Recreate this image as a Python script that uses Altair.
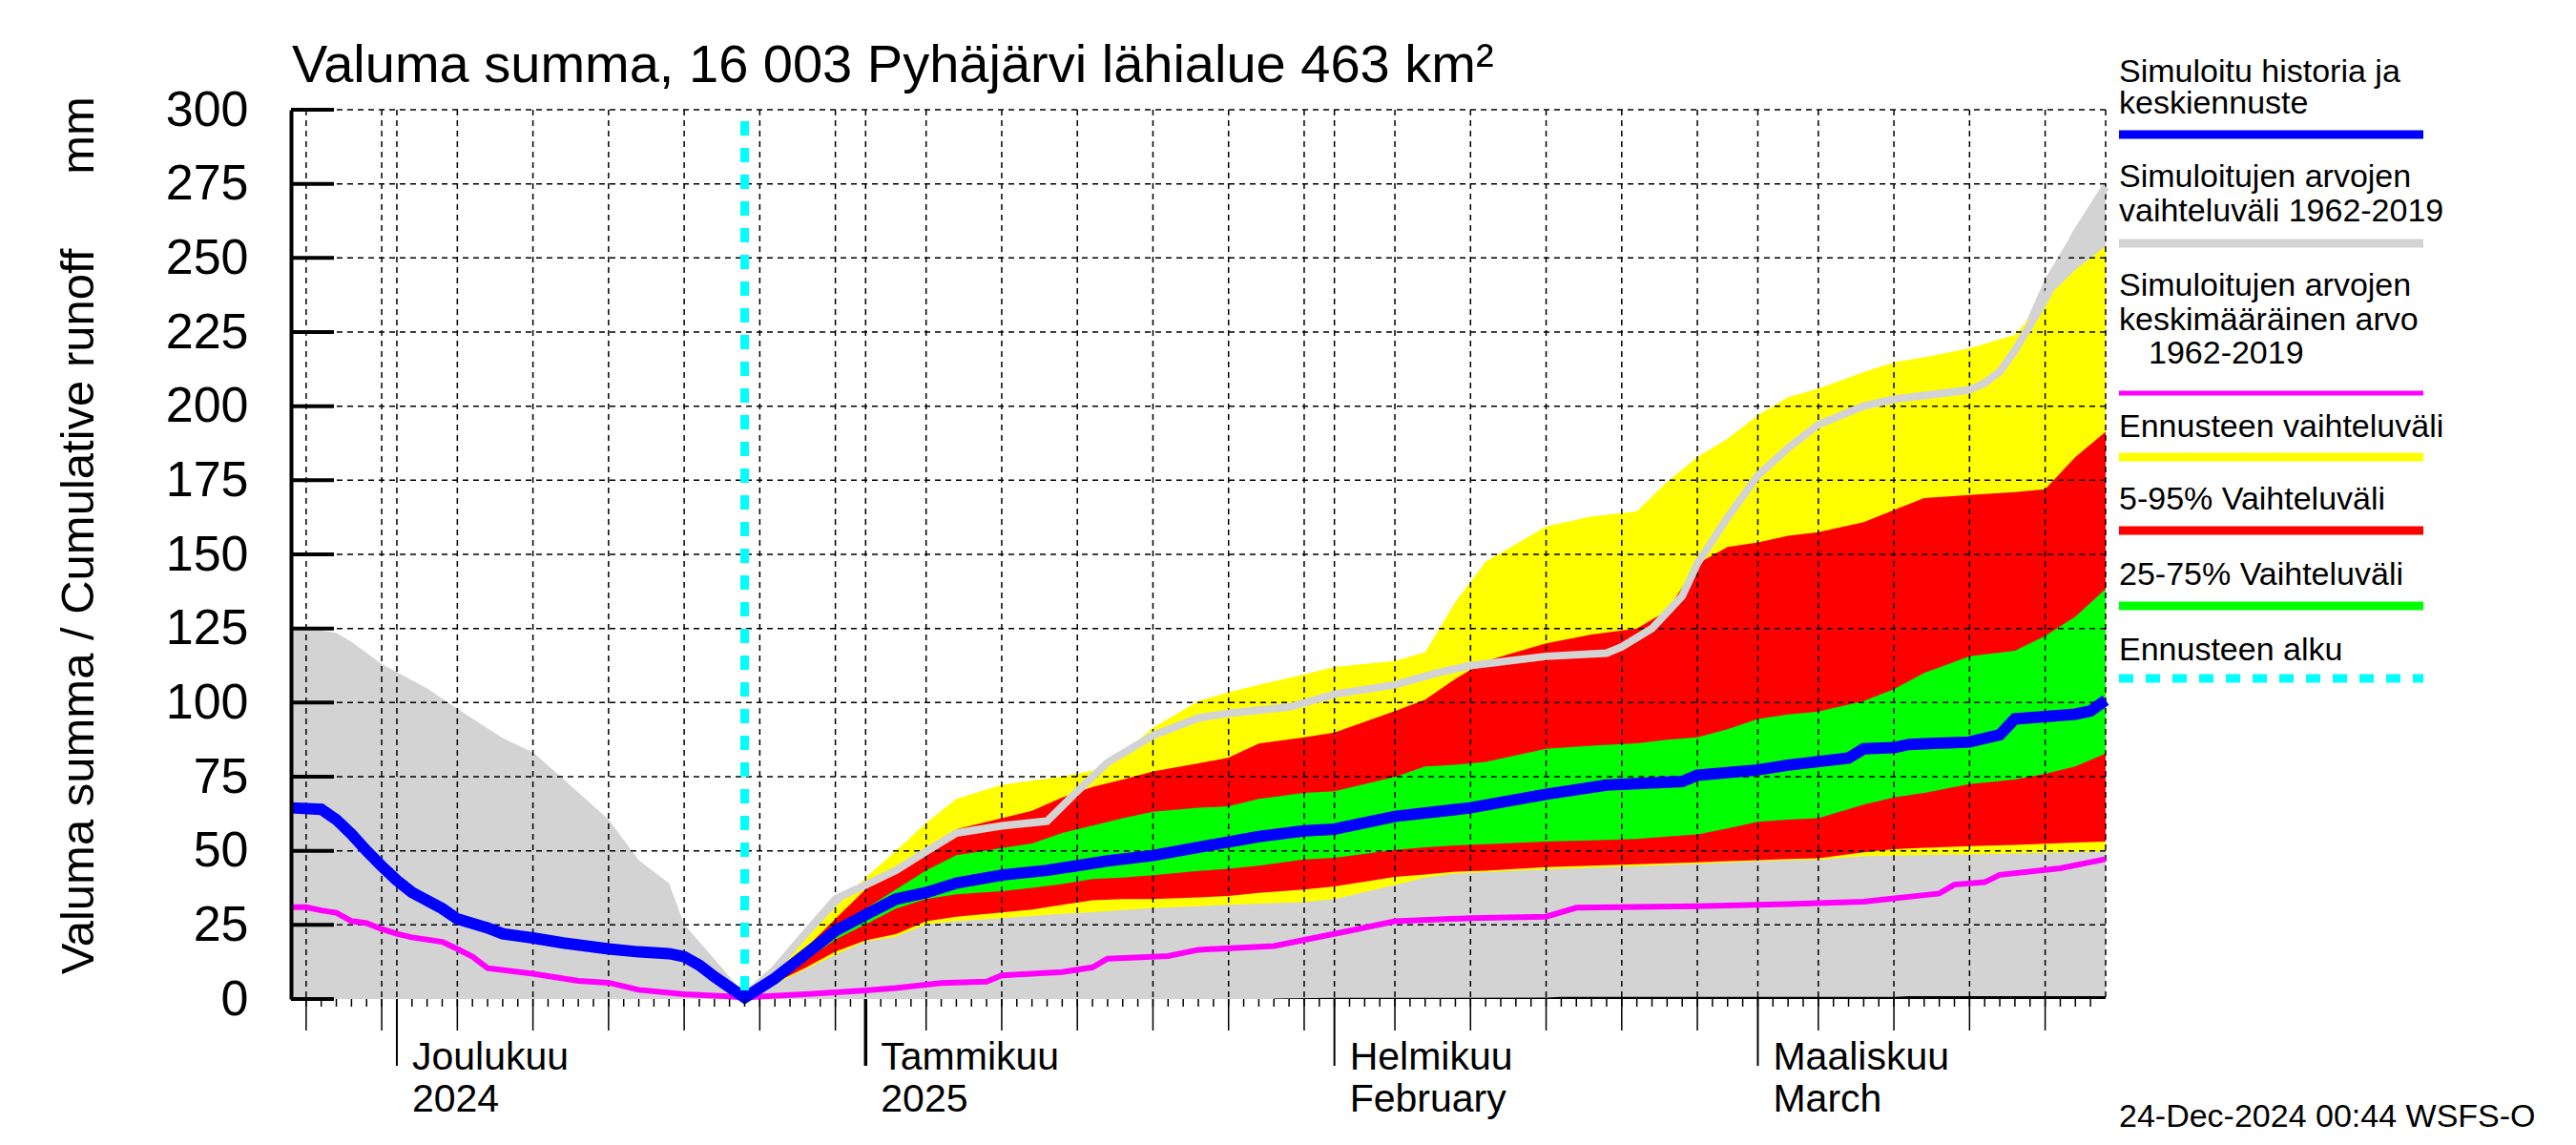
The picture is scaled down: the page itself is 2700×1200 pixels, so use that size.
import altair as alt
import pandas as pd

FONT = "Liberation Sans"
W, H = 1902, 932

# ---------------- data ----------------
title_text = "Valuma summa, 16 003 Pyhäjärvi lähialue 463 km²"
ytitle_text = "Valuma summa / Cumulative runoff"
yunit_text = "mm"
stamp_text = "24-Dec-2024 00:44 WSFS-O"
y_ticks = [0, 25, 50, 75, 100, 125, 150, 175, 200, 225, 250, 275, 300]

month_starts = ["2024-12-01", "2025-01-01", "2025-02-01", "2025-03-01"]
month_line1 = ["Joulukuu", "Tammikuu", "Helmikuu", "Maaliskuu"]
month_line2 = ["2024", "2025", "February", "March"]

forecast_start = ["2024-12-24"]

legend_labels = [
    "Simuloitu historia ja", "keskiennuste",
    "Simuloitujen arvojen", "vaihteluväli 1962-2019",
    "Simuloitujen arvojen", "keskimääräinen arvo", "1962-2019",
    "Ennusteen vaihteluväli",
    "5-95% Vaihteluväli",
    "25-75% Vaihteluväli",
    "Ennusteen alku",
]

# simulated history + median forecast (blue)
blue_dates = ["2024-11-24", "2024-11-26", "2024-11-27", "2024-11-28", "2024-11-29", "2024-11-30",
              "2024-12-01", "2024-12-02", "2024-12-04", "2024-12-05", "2024-12-07", "2024-12-08",
              "2024-12-10", "2024-12-12", "2024-12-15", "2024-12-17", "2024-12-19", "2024-12-20",
              "2024-12-21", "2024-12-22", "2024-12-24", "2024-12-26", "2024-12-28", "2024-12-30",
              "2025-01-01", "2025-01-03", "2025-01-05", "2025-01-07", "2025-01-10", "2025-01-13",
              "2025-01-15", "2025-01-17", "2025-01-20", "2025-01-25", "2025-01-27", "2025-01-30",
              "2025-02-01", "2025-02-05", "2025-02-10", "2025-02-15", "2025-02-17", "2025-02-19",
              "2025-02-24", "2025-02-25", "2025-03-01", "2025-03-03", "2025-03-07", "2025-03-08",
              "2025-03-10", "2025-03-11", "2025-03-15", "2025-03-17", "2025-03-18", "2025-03-20",
              "2025-03-22", "2025-03-23", "2025-03-24"]
blue_vals = [64.5, 64, 60.5, 55.6, 50, 44.8,
             40, 36, 30.5, 27, 24, 22, 20.6, 18.9, 16.9, 15.9, 15.3, 14.3, 11.4, 7.5, 0.5, 7, 15, 23,
             28.4, 33.7, 35.9, 39.1, 41.8, 43.4, 45, 46.6, 48.4, 53, 54.8, 56.7,
             57.3, 61.6, 64.5, 69.1, 70.6, 72.2, 73.4, 75.5,
             77.3, 78.9, 81.3, 84.4, 84.8, 85.9, 86.7, 89.1, 94.5, 95.3, 96.1, 97.2, 100.8]

# range of simulated values 1962-2019 (grey area, upper edge)
gray_dates = ["2024-11-24", "2024-11-27", "2024-11-28", "2024-11-30", "2024-12-03", "2024-12-05",
              "2024-12-08", "2024-12-10", "2024-12-12", "2024-12-15", "2024-12-17", "2024-12-19",
              "2024-12-20", "2024-12-22",
              "2024-12-24", "2024-12-26", "2024-12-28", "2024-12-30", "2025-01-01", "2025-01-03",
              "2025-01-05", "2025-01-07", "2025-01-10", "2025-01-12", "2025-01-14", "2025-01-16",
              "2025-01-18", "2025-01-20", "2025-01-23", "2025-01-25", "2025-01-27", "2025-01-30",
              "2025-02-01", "2025-02-05", "2025-02-07", "2025-02-09", "2025-02-11", "2025-02-15",
              "2025-02-18", "2025-02-21", "2025-02-23", "2025-02-25", "2025-02-27", "2025-03-01",
              "2025-03-03", "2025-03-05", "2025-03-08", "2025-03-10", "2025-03-12", "2025-03-15",
              "2025-03-18", "2025-03-20", "2025-03-22", "2025-03-24"]
gray_hi = [125.8, 123.5, 120.5, 113, 104.8, 97.9, 88, 83.2, 74.3, 60.5, 46.8, 39, 25.2, 13.4,
           1.5, 10, 22, 33, 39, 45, 52, 60, 65, 68, 70, 72, 76, 85, 95, 98, 100, 104,
           106, 108, 110, 120, 135, 150, 155, 158, 165, 172, 180,
           188, 195, 198, 204, 207, 209, 212, 220, 243, 260, 276]

# forecast bands
fc_dates = ["2024-12-24", "2024-12-26", "2024-12-28", "2024-12-30",
            "2025-01-01", "2025-01-03", "2025-01-05", "2025-01-07", "2025-01-10", "2025-01-12",
            "2025-01-14", "2025-01-16", "2025-01-18", "2025-01-20", "2025-01-23", "2025-01-25",
            "2025-01-27", "2025-01-30",
            "2025-02-01", "2025-02-05", "2025-02-07", "2025-02-09", "2025-02-11", "2025-02-15",
            "2025-02-18", "2025-02-21", "2025-02-23", "2025-02-25", "2025-02-27",
            "2025-03-01", "2025-03-03", "2025-03-05", "2025-03-08", "2025-03-10", "2025-03-12",
            "2025-03-15", "2025-03-18", "2025-03-20", "2025-03-22", "2025-03-24"]
fc_max = [1, 9, 20, 31,
          41, 50, 59.4, 67.5, 72.3, 73.7, 75, 77, 83, 91.5, 100.5, 103.5, 106, 109.5,
          112, 114, 117, 134, 147.5, 159.4, 162.8, 164.5, 174.5, 182.8, 189,
          196.9, 203, 205.9, 211.5, 214.8, 216.5, 219.5, 224, 236, 246, 254]
fc_p95 = [1, 8, 17, 27,
          37, 44.4, 50.3, 57.3, 61, 63.5, 68, 71.5, 74, 76.8, 79.5, 81.4, 86.2, 88.3,
          89.9, 97.1, 101, 108, 114, 120, 123, 125, 131, 146.9, 152.5,
          154, 156.3, 157.5, 160.9, 165, 169, 170, 171, 172, 182.8, 191.4]
fc_p75 = [1, 7.5, 15.5, 24,
          30.5, 36.9, 43.4, 48.5, 50.9, 52.5, 56, 58.5, 61, 63.2, 64.5, 65, 67.5, 69.5,
          70.1, 74.9, 78.5, 79, 80, 84.4, 85.5, 86.3, 87.5, 88.3, 91,
          94.5, 96, 97, 100.5, 104.5, 110, 115.6, 117.5, 122.5, 129, 138.3]
fc_p25 = [1, 6.5, 13, 20,
          25.2, 30.5, 33.7, 35.3, 36.4, 37.5, 38.8, 40.5, 41, 41.8, 43.2, 43.9, 45, 47.1,
          47.6, 50.3, 51.2, 51.8, 52.2, 53.1, 53.5, 54, 54.8, 55.5, 57.5,
          59.8, 60.5, 61, 65.6, 68, 69.5, 72.5, 74, 76, 78.5, 82.8]
fc_p5 = [1, 5.5, 10.5, 16,
         19.8, 21.9, 26.2, 27.8, 29.2, 30.2, 31.8, 33.3, 33.7, 33.7, 34.3, 34.8, 35.8, 36.9,
         38, 41.2, 42, 43, 43.3, 44.5, 45, 45.5, 45.8, 46.1, 46.5,
         46.8, 47.2, 47.5, 49.5, 50.5, 51, 51.6, 52, 52.4, 52.8, 53.1]
fc_min = [1, 5, 10, 15,
          19.5, 21, 25.2, 26.3, 27.3, 28, 28.7, 29.3, 30, 30.7, 31.3, 31.8, 32.2, 32.7,
          33.7, 38.5, 41, 42.3, 42.8, 43.8, 44.3, 44.8, 45.2, 45.6, 46,
          46.5, 46.8, 47, 48.2, 48.4, 48.6, 48.8, 49.1, 49.3, 49.5, 49.7]

# light grey single simulation line
lg_dates = ["2024-12-24", "2024-12-26", "2024-12-28", "2024-12-30",
            "2025-01-01", "2025-01-03", "2025-01-05", "2025-01-07", "2025-01-10", "2025-01-13",
            "2025-01-15", "2025-01-17", "2025-01-20", "2025-01-23", "2025-01-25", "2025-01-29",
            "2025-02-01", "2025-02-05", "2025-02-08", "2025-02-10", "2025-02-15", "2025-02-19",
            "2025-02-20", "2025-02-22", "2025-02-24", "2025-02-25", "2025-02-27",
            "2025-03-01", "2025-03-03", "2025-03-05", "2025-03-08", "2025-03-10", "2025-03-15",
            "2025-03-16", "2025-03-17", "2025-03-18", "2025-03-20", "2025-03-22", "2025-03-24"]
lg_vals = [1, 10, 22, 33.7,
           38.5, 43.4, 49.8, 56, 58.4, 60, 70.1, 79.8, 88.9, 94.8, 96.4, 98.5,
           102.8, 106, 110.3, 112.5, 115.6, 116.7, 118.8, 125, 135.9, 146.9, 162.5,
           176.6, 185.9, 193.8, 200, 202.3, 205.5, 207.8, 211.7, 218.8, 236, 258, 274]

# mean of simulated values 1962-2019 (magenta)
mean_dates = ["2024-11-24", "2024-11-25", "2024-11-26", "2024-11-27", "2024-11-28", "2024-11-29",
              "2024-11-30", "2024-12-01", "2024-12-02", "2024-12-04", "2024-12-05", "2024-12-06",
              "2024-12-07", "2024-12-10", "2024-12-13", "2024-12-15", "2024-12-17", "2024-12-20",
              "2024-12-24", "2024-12-28", "2025-01-01", "2025-01-03", "2025-01-06", "2025-01-09",
              "2025-01-10", "2025-01-14", "2025-01-16", "2025-01-17", "2025-01-21", "2025-01-23",
              "2025-01-28", "2025-02-02", "2025-02-05", "2025-02-10", "2025-02-15", "2025-02-17",
              "2025-02-25", "2025-03-03", "2025-03-08", "2025-03-13", "2025-03-14", "2025-03-16",
              "2025-03-17", "2025-03-21", "2025-03-24"]
mean_vals = [31, 31, 29.9, 29.1, 26.3, 25.6, 23.6,
             22, 20.8, 19.3, 16.9, 14.3, 10.4, 8.5, 6.1, 5.5, 3.1, 1.6, 0.6, 1.6,
             2.9, 3.7, 5.4, 5.9, 8, 9.1, 10.7, 13.6, 14.5, 16.6, 17.9,
             23, 26.2, 27.3, 27.8, 30.8, 31.3,
             32, 32.8, 35.6, 38.6, 39.4, 41.9, 44.1, 47.2]

# thin black minimum strip at the bottom
min_dates = ["2025-01-28", "2025-02-01", "2025-02-15", "2025-02-16", "2025-03-10", "2025-03-11", "2025-03-24"]
min_vals = [0.15, 0.4, 0.45, 0.7, 0.75, 1.0, 1.0]

# ---------------- scales ----------------
xs = alt.Scale(type="utc", domain=[alt.DateTime(year=2024, month=11, date=24, utc=True),
                                   alt.DateTime(year=2025, month=3, date=24, utc=True)])
ys = alt.Scale(domain=[0, 300], nice=False, zero=False)

yaxis = alt.Axis(values=y_ticks, ticks=False, grid=False, domain=True, domainColor="black",
                 domainWidth=4, labelFont=FONT, labelFontSize=52, labelColor="black",
                 labelPadding=45, title=None, zindex=1)


def X(f="d"):
    return alt.X(f"{f}:T", scale=xs, axis=None)


def Y(f):
    return alt.Y(f"{f}:Q", scale=ys, axis=yaxis)


gray_df = pd.DataFrame({"d": gray_dates, "hi": gray_hi})
fc_df = pd.DataFrame({"d": fc_dates, "mn": fc_min, "p5": fc_p5, "p25": fc_p25,
                      "p75": fc_p75, "p95": fc_p95, "mx": fc_max})
blue_df = pd.DataFrame({"d": blue_dates, "v": blue_vals})
lg_df = pd.DataFrame({"d": lg_dates, "v": lg_vals})
mean_df = pd.DataFrame({"d": mean_dates, "v": mean_vals})
min_df = pd.DataFrame({"d": min_dates, "v": min_vals})

layers = []
layers.append(alt.Chart(gray_df).mark_area(color="#d3d3d3").encode(
    x=X(), y=Y("hi"), y2=alt.datum(0)))
layers.append(alt.Chart(fc_df).mark_area(color="#ffff00").encode(x=X(), y=Y("mx"), y2="mn:Q"))
layers.append(alt.Chart(fc_df).mark_area(color="#ff0000").encode(x=X(), y=Y("p95"), y2="p5:Q"))
layers.append(alt.Chart(fc_df).mark_area(color="#00ff00").encode(x=X(), y=Y("p75"), y2="p25:Q"))
layers.append(alt.Chart(min_df).mark_area(color="black").encode(x=X(), y=Y("v"), y2=alt.datum(0)))

# grid
all_days = pd.date_range("2024-11-25", "2025-03-23", freq="D")
grid_days = [d.strftime("%Y-%m-%d") for d in all_days if d.day in (1, 5, 10, 15, 20, 25, 30)]
mid_days = [d.strftime("%Y-%m-%d") for d in all_days if d.day in (5, 10, 15, 20, 25, 30)]
day_days = [d.strftime("%Y-%m-%d") for d in all_days]
dash = [6, 5]
layers.append(alt.Chart(pd.DataFrame({"v": y_ticks[1:]})).mark_rule(
    color="black", strokeWidth=1.5, strokeDash=dash).encode(y=Y("v")))
layers.append(alt.Chart(pd.DataFrame({"d": grid_days + ["2025-03-24"]})).mark_rule(
    color="black", strokeWidth=1.5, strokeDash=dash).encode(x=X()))

# lines
layers.append(alt.Chart(lg_df).mark_line(color="#d3d3d3", strokeWidth=8).encode(x=X(), y=Y("v")))
layers.append(alt.Chart(mean_df).mark_line(color="#ff00ff", strokeWidth=6).encode(x=X(), y=Y("v")))
layers.append(alt.Chart(blue_df).mark_line(color="#0000ff", strokeWidth=12).encode(x=X(), y=Y("v")))
layers.append(alt.Chart(pd.DataFrame({"d": forecast_start})).mark_rule(
    color="#00ffff", strokeWidth=9, strokeDash=[15, 13]).encode(
    x=X(), y=alt.value(12), y2=alt.value(H)))

# y ticks inside the plot
layers.append(alt.Chart(pd.DataFrame({"v": y_ticks})).mark_rule(color="black", strokeWidth=4).encode(
    y=Y("v"), x=alt.value(0), x2=alt.value(45)))

# x ticks below the plot
layers.append(alt.Chart(pd.DataFrame({"d": day_days})).mark_rule(color="black", strokeWidth=1.5).encode(
    x=X(), y=alt.value(H), y2=alt.value(H + 8)))
layers.append(alt.Chart(pd.DataFrame({"d": mid_days})).mark_rule(color="black", strokeWidth=1.5).encode(
    x=X(), y=alt.value(H), y2=alt.value(H + 33)))
layers.append(alt.Chart(pd.DataFrame({"d": month_starts})).mark_rule(color="black", strokeWidth=2).encode(
    x=X(), y=alt.value(H), y2=alt.value(H + 70)))
layers.append(alt.Chart(pd.DataFrame({"d": ["2025-01-01"]})).mark_rule(color="black", strokeWidth=3.5).encode(
    x=X(), y=alt.value(H), y2=alt.value(H + 70)))

# month labels
mdf = pd.DataFrame({"d": month_starts, "l1": month_line1, "l2": month_line2})
layers.append(alt.Chart(mdf).mark_text(font=FONT, fontSize=41, align="left", baseline="alphabetic",
                                       dx=16, color="black").encode(
    x=X(), y=alt.value(H + 74), text="l1:N"))
layers.append(alt.Chart(mdf).mark_text(font=FONT, fontSize=41, align="left", baseline="alphabetic",
                                       dx=16, color="black").encode(
    x=X(), y=alt.value(H + 118), text="l2:N"))


def text_layer(s, x, y, size, align="left", baseline="alphabetic", angle=0):
    kw = dict(font=FONT, fontSize=size, align=align, baseline=baseline, color="black")
    if angle:
        kw["angle"] = angle
    return alt.Chart(pd.DataFrame({"t": [s]})).mark_text(**kw).encode(
        text="t:N", x=alt.value(x), y=alt.value(y))


layers.append(text_layer(title_text, 1, -29, 56))
layers.append(text_layer(ytitle_text, -222, 526, 49, align="center", baseline="middle", angle=270))
layers.append(text_layer(yunit_text, -222, 27, 49, align="center", baseline="middle", angle=270))
layers.append(text_layer(stamp_text, 1916, 1056, 34, baseline="middle"))

# legend
LX = 1916
text_pos = [(LX, -29), (LX, 4), (LX, 81), (LX, 117), (LX, 195), (LX, 231), (LX + 31, 266),
            (LX, 343), (LX, 419), (LX, 498), (LX, 577)]
for s, (x, y) in zip(legend_labels, text_pos):
    layers.append(text_layer(s, x, y, 34))

legend_lines = [(26, "#0000ff", 9, None), (140, "#d3d3d3", 9, None), (297, "#ff00ff", 5, None),
                (364, "#ffff00", 9, None), (441, "#ff0000", 9, None), (520, "#00ff00", 9, None),
                (596, "#00ffff", 9, [15, 13])]
for y, c, w, dsh in legend_lines:
    kw = dict(color=c, strokeWidth=w)
    if dsh:
        kw["strokeDash"] = dsh
    layers.append(alt.Chart(pd.DataFrame({"k": [0]})).mark_rule(**kw).encode(
        x=alt.value(LX), x2=alt.value(2235), y=alt.value(y)))

chart = alt.layer(*layers).properties(
    width=W, height=H,
    padding={"left": 297, "top": 107, "right": 485, "bottom": 148},
    autosize=alt.AutoSizeParams(type="none"),
    background="white",
).configure_view(stroke=None)

chart.save("out.html", embed_options={"renderer": "svg", "actions": False})
